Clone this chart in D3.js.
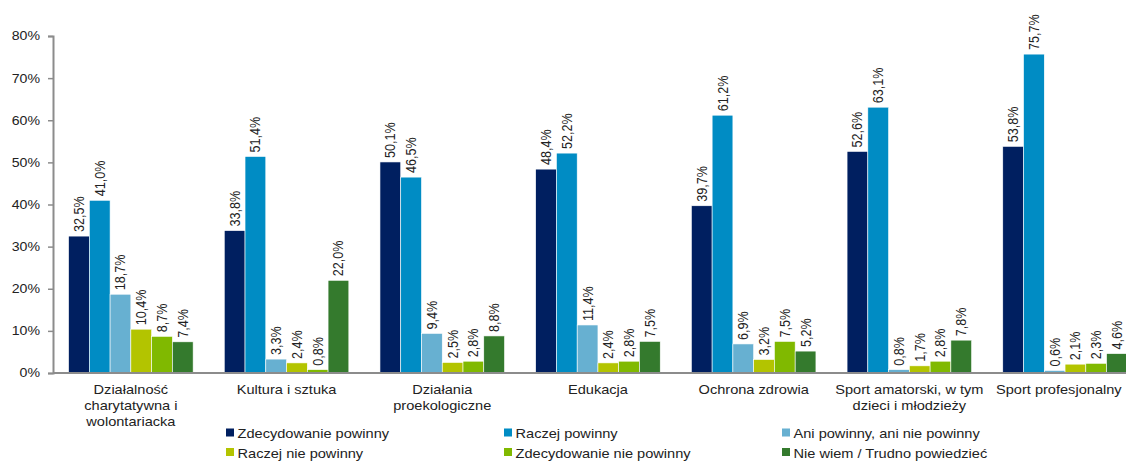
<!DOCTYPE html>
<html>
<head>
<meta charset="utf-8">
<script src="https://cdn.jsdelivr.net/npm/d3@7"></script>
<style>
  body { margin: 0; background: #fff; }
  text { font-family: 'Liberation Sans', Arial, sans-serif; fill: #222; }
</style>
</head>
<body>
<div id="chart"></div>
<script>
const categories = [
  ['Działalność', 'charytatywna i', 'wolontariacka'],
  ['Kultura i sztuka'],
  ['Działania', 'proekologiczne'],
  ['Edukacja'],
  ['Ochrona zdrowia'],
  ['Sport amatorski, w tym', 'dzieci i młodzieży'],
  ['Sport profesjonalny']
]

const seriesNames = [
  'Zdecydowanie powinny',
  'Raczej powinny',
  'Ani powinny, ani nie powinny',
  'Raczej nie powinny',
  'Zdecydowanie nie powinny',
  'Nie wiem / Trudno powiedzieć'
]

const colors = ['#001f60', '#008cc4', '#67b0d1', '#b3c400', '#80b900', '#347a2d']

// one row per category, values in series order
const values = [
  [32.5, 41.0, 18.7, 10.4, 8.7, 7.4],
  [33.8, 51.4, 3.3, 2.4, 0.8, 22.0],
  [50.1, 46.5, 9.4, 2.5, 2.8, 8.8],
  [48.4, 52.2, 11.4, 2.4, 2.8, 7.5],
  [39.7, 61.2, 6.9, 3.2, 7.5, 5.2],
  [52.6, 63.1, 0.8, 1.7, 2.8, 7.8],
  [53.8, 75.7, 0.6, 2.1, 2.3, 4.6]
]

const yTicks = [0, 10, 20, 30, 40, 50, 60, 70, 80]

const W = 1126, H = 461
const margin = { left: 53, top: 36, bottom: 373 }
const bandW = 155.7
// the source picture is a bit wider than tall, so text gets stretched sideways
const sx = 1.14
const stretch = 'scale(' + sx + ',1)'

const svg = d3.select('#chart').append('svg')
  .attr('width', W).attr('height', H)

const x0 = d3.scaleBand()
  .domain(d3.range(categories.length))
  .range([margin.left, margin.left + bandW * categories.length])
  .paddingInner(0.2)
  .paddingOuter(0.1)

const x1 = d3.scaleBand()
  .domain(d3.range(seriesNames.length))
  .range([0, x0.bandwidth()])

const y = d3.scaleLinear().domain([0, 80]).range([margin.bottom, margin.top])

const fmt = v => v.toFixed(1).replace('.', ',') + '%'

// y axis
const yAxis = d3.axisLeft(y)
  .tickValues(yTicks)
  .tickFormat(d => d + '%')
  .tickSize(5)
  .tickPadding(8)

const gy = svg.append('g')
  .attr('transform', 'translate(' + margin.left + ',0)')
  .call(yAxis)
gy.select('.domain').attr('stroke', '#8c8c8c').attr('stroke-width', 2)
gy.selectAll('.tick line').attr('stroke', '#8c8c8c').attr('stroke-width', 1.5)
gy.selectAll('.tick text')
  .attr('x', 0)
  .attr('transform', 'translate(-13,0) ' + stretch)
  .attr('font-size', 12.4)
  .attr('fill', '#333')
  .style('font-family', "'Liberation Sans', Arial, sans-serif")

// bars
const groups = svg.selectAll('.grp')
  .data(values)
  .enter()
  .append('g')
  .attr('class', 'grp')
  .attr('transform', (d, i) => 'translate(' + x0(i) + ',0)')

groups.selectAll('rect')
  .data(d => d)
  .enter()
  .append('rect')
  .attr('x', (d, i) => x1(i))
  .attr('y', d => y(d))
  .attr('width', x1.bandwidth())
  .attr('height', d => margin.bottom - y(d))
  .attr('fill', (d, i) => colors[i])
  .attr('stroke', '#fff')
  .attr('stroke-width', 0.6)

groups.selectAll('.val')
  .data(d => d)
  .enter()
  .append('text')
  .attr('class', 'val')
  .attr('transform', (d, i) => 'translate(' + (x1(i) + x1.bandwidth() / 2 + 5) + ',' + (y(d) - 4) + ') ' + stretch + ' rotate(-90)')
  .attr('font-size', 12.6)
  .attr('fill', '#111')
  .text(d => fmt(d))

// x axis line
svg.append('line')
  .attr('x1', margin.left).attr('x2', W)
  .attr('y1', margin.bottom).attr('y2', margin.bottom)
  .attr('stroke', '#8c8c8c').attr('stroke-width', 2)

// category labels
svg.selectAll('.cat')
  .data(categories)
  .enter()
  .append('g')
  .attr('class', 'cat')
  .each(function(d, i) {
    const g = d3.select(this)
    g.selectAll('text')
      .data(d)
      .enter()
      .append('text')
      .attr('text-anchor', 'middle')
      .attr('font-size', 12.8)
      .attr('fill', '#222')
      .attr('x', 0)
      .attr('y', (t, j) => 394 + j * 15.8)
      .text(t => t)
    // keep the label inside the picture, like the source does for the last one
    const half = g.node().getBBox().width * sx / 2
    const cx = Math.min(x0(i) + x0.bandwidth() / 2, W - 4 - half)
    g.attr('transform', 'translate(' + cx + ',0) ' + stretch)
  })

// legend
const legend = svg.append('g')
seriesNames.forEach((name, i) => {
  const col = i % 3, row = Math.floor(i / 3)
  const g = legend.append('g')
    .attr('transform', 'translate(' + (226 + col * 278) + ',' + (433 + row * 19.5) + ')')
  g.append('rect')
    .attr('x', 0).attr('y', -4.5)
    .attr('width', 8).attr('height', 8)
    .attr('fill', colors[i])
  g.append('text')
    .attr('transform', 'translate(11.5,5) ' + stretch)
    .attr('font-size', 12.8)
    .attr('fill', '#222')
    .text(name)
})
</script>
</body>
</html>
